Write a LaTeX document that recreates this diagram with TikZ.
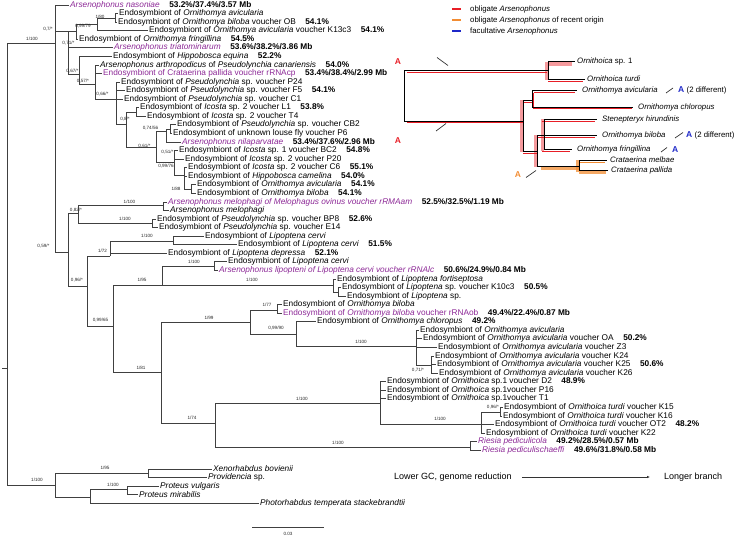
\documentclass[tikz,border=0pt]{standalone}
\usepackage{fontspec}
\setmainfont{Liberation Sans}
\usetikzlibrary{arrows.meta}
\definecolor{arsp}{RGB}{140,40,150}
\definecolor{obl}{RGB}{232,30,38}
\definecolor{rec}{RGB}{242,140,50}
\definecolor{fac}{RGB}{30,40,200}
\newcommand{\EoS}{Endosymbiont of}
\newcommand{\sgap}{\hspace{1.15em}}
\newcommand{\pp}[1]{\textcolor{arsp}{#1}}
\begin{document}
\begin{tikzpicture}[x=1pt,y=-1pt,
  br/.style={draw=black!75,line width=0.7pt},
  leaf/.style={anchor=west,inner ysep=0pt,inner xsep=1.5pt,font=\fontsize{8.3}{9}\selectfont},
  supp/.style={inner sep=0pt,font=\fontsize{4.6}{5}\selectfont,text=black!85},
  ileaf/.style={anchor=west,inner ysep=0pt,inner xsep=2pt,font=\fontsize{7.8}{9}\selectfont\itshape},
  ilab/.style={anchor=west,inner sep=0pt,font=\fontsize{7.8}{9}\selectfont},
  redl/.style={draw=obl,line width=0.8pt},
  redb/.style={draw=obl,opacity=0.45,line width=3.5pt},
  orb/.style={draw=rec,opacity=0.75,line width=3pt},
  orl/.style={draw=rec,line width=0.9pt},
  tick/.style={draw=black!80,line width=0.7pt},
  bigA/.style={inner sep=0pt,font=\fontsize{8.5}{9}\selectfont\bfseries}]
\useasboundingbox (0,0) rectangle (738,536);

% ---------------- leaves ----------------
\node[leaf] (l0) at (68.5,5) {\pp{\textit{Arsenophonus nasoniae}}\sgap\textbf{53.2\%/37.4\%/3.57 Mb}};
\node[leaf] (l1) at (117.5,13.6) {\EoS\ \textit{Ornithomya avicularia}};
\node[leaf] (l2) at (116.5,22.1) {\EoS\ \textit{Ornithomya biloba} voucher OB\sgap\textbf{54.1\%}};
\node[leaf] (l3) at (147.5,30.7) {\EoS\ \textit{Ornithomya avicularia} voucher K13c3\sgap\textbf{54.1\%}};
\node[leaf] (l4) at (77.5,39.2) {\EoS\ \textit{Ornithomya fringillina}\sgap\textbf{54.5\%}};
\node[leaf] (l5) at (112.5,47.8) {\pp{\textit{Arsenophonus triatominarum}}\sgap\textbf{53.6\%/38.2\%/3.86 Mb}};
\node[leaf] (l6) at (111.5,56.4) {\EoS\ \textit{Hippobosca equina}\sgap\textbf{52.2\%}};
\node[leaf] (l7) at (98.5,64.9) {\textit{Arsenophonus arthropodicus} of \textit{Pseudolynchia canariensis}\sgap\textbf{54.0\%}};
\node[leaf] (l8) at (101.5,73.5) {\pp{\EoS\ Crataerina pallida voucher rRNAcp}\sgap\textbf{53.4\%/38.4\%/2.99 Mb}};
\node[leaf] (l9) at (119.5,82) {\EoS\ \textit{Pseudolynchia} sp. voucher P24};
\node[leaf] (l10) at (124.5,90.6) {\EoS\ \textit{Pseudolynchia} sp. voucher F5\sgap\textbf{54.1\%}};
\node[leaf] (l11) at (122.5,99.2) {\EoS\ \textit{Pseudolynchia} sp. voucher C1};
\node[leaf] (l12) at (138.5,107.7) {\EoS\ \textit{Icosta} sp. 2 voucher L1\sgap\textbf{53.8\%}};
\node[leaf] (l13) at (145.5,116.3) {\EoS\ \textit{Icosta} sp. 2 voucher T4};
\node[leaf] (l14) at (175.5,124.8) {\EoS\ \textit{Pseudolynchia} sp. voucher CB2};
\node[leaf] (l15) at (171.5,133.4) {\EoS\ unknown louse fly voucher P6};
\node[leaf] (l16) at (180.5,142) {\pp{\textit{Arsenophonus nilaparvatae}}\sgap\textbf{53.4\%/37.6\%/2.96 Mb}};
\node[leaf] (l17) at (177.5,150.5) {\EoS\ \textit{Icosta} sp. 1 voucher BC2\sgap\textbf{54.8\%}};
\node[leaf] (l18) at (183.5,159.1) {\EoS\ \textit{Icosta} sp. 2 voucher P20};
\node[leaf] (l19) at (186.5,167.6) {\EoS\ \textit{Icosta} sp. 2 voucher C6\sgap\textbf{55.1\%}};
\node[leaf] (l20) at (186.5,176.2) {\EoS\ \textit{Hippobosca camelina}\sgap\textbf{54.0\%}};
\node[leaf] (l21) at (195.5,184.8) {\EoS\ \textit{Ornithomya avicularia}\sgap\textbf{54.1\%}};
\node[leaf] (l22) at (195.5,193.3) {\EoS\ \textit{Ornithomya biloba}\sgap\textbf{54.1\%}};
\node[leaf] (l23) at (166.5,201.9) {\pp{\textit{Arsenophonus melophagi of Melophagus ovinus voucher rRMAam}}\sgap\textbf{52.5\%/32.5\%/1.19 Mb}};
\node[leaf] (l24) at (168.5,210.4) {\textit{Arsenophonus melophagi}};
\node[leaf] (l25) at (155.5,219) {\EoS\ \textit{Pseudolynchia} sp. voucher BP8\sgap\textbf{52.6\%}};
\node[leaf] (l26) at (157.5,227.6) {\EoS\ \textit{Pseudolynchia} sp. voucher E14};
\node[leaf] (l27) at (203.5,236.1) {\EoS\ \textit{Lipoptena cervi}};
\node[leaf] (l28) at (236.5,244.7) {\EoS\ \textit{Lipoptena cervi}\sgap\textbf{51.5\%}};
\node[leaf] (l29) at (166.5,253.2) {\EoS\ \textit{Lipoptena depressa}\sgap\textbf{52.1\%}};
\node[leaf] (l30) at (226.5,261.8) {\EoS\ \textit{Lipoptena cervi}};
\node[leaf] (l31) at (217.5,270.4) {\pp{\textit{Arsenophonus lipopteni of Lipoptena cervi voucher rRNAlc}}\sgap\textbf{50.6\%/24.9\%/0.84 Mb}};
\node[leaf] (l32) at (335.5,278.9) {\EoS\ \textit{Lipoptena fortiseptosa}};
\node[leaf] (l33) at (340.5,287.5) {\EoS\ \textit{Lipoptena} sp. voucher K10c3\sgap\textbf{50.5\%}};
\node[leaf] (l34) at (345.5,296) {\EoS\ \textit{Lipoptena} sp.};
\node[leaf] (l35) at (281.5,304.6) {\EoS\ \textit{Ornithomya biloba}};
\node[leaf] (l36) at (281.5,313.2) {\pp{\EoS\ \textit{Ornithomya biloba} voucher rRNAob}\sgap\textbf{49.4\%/22.4\%/0.87 Mb}};
\node[leaf] (l37) at (315.5,321.7) {\EoS\ \textit{Ornithomya chloropus}\sgap\textbf{49.2\%}};
\node[leaf] (l38) at (418.5,330.3) {\EoS\ \textit{Ornithomya avicularia}};
\node[leaf] (l39) at (421.5,338.8) {\EoS\ \textit{Ornithomya avicularia} voucher OA\sgap\textbf{50.2\%}};
\node[leaf] (l40) at (436.5,347.4) {\EoS\ \textit{Ornithomya avicularia} voucher Z3};
\node[leaf] (l41) at (433.5,356) {\EoS\ \textit{Ornithomya avicularia} voucher K24};
\node[leaf] (l42) at (435.5,364.5) {\EoS\ \textit{Ornithomya avicularia} voucher K25\sgap\textbf{50.6\%}};
\node[leaf] (l43) at (437.5,373.1) {\EoS\ \textit{Ornithomya avicularia} voucher K26};
\node[leaf] (l44) at (385.5,381.6) {\EoS\ \textit{Ornithoica} sp.1 voucher D2\sgap\textbf{48.9\%}};
\node[leaf] (l45) at (385.5,390.2) {\EoS\ \textit{Ornithoica} sp.1voucher P16};
\node[leaf] (l46) at (385.5,398.8) {\EoS\ \textit{Ornithoica} sp.1voucher T1};
\node[leaf] (l47) at (502.5,407.3) {\EoS\ \textit{Ornithoica turdi} voucher K15};
\node[leaf] (l48) at (501.5,415.9) {\EoS\ \textit{Ornithoica turdi} voucher K16};
\node[leaf] (l49) at (493.5,424.4) {\EoS\ \textit{Ornithoica turdi} voucher OT2\sgap\textbf{48.2\%}};
\node[leaf] (l50) at (484.5,433) {\EoS\ \textit{Ornithoica turdi} voucher K22};
\node[leaf] (l51) at (476.5,441.6) {\pp{\textit{Riesia pediculicola}}\sgap\textbf{49.2\%/28.5\%/0.57 Mb}};
\node[leaf] (l52) at (480.5,450.1) {\pp{\textit{Riesia pediculischaeffi}}\sgap\textbf{49.6\%/31.8\%/0.58 Mb}};
\node[leaf] (o1) at (211.5,469) {\textit{Xenorhabdus bovienii}};
\node[leaf] (o2) at (206.5,477.6) {\textit{Providencia} sp.};
\node[leaf] (o3) at (158.5,486.1) {\textit{Proteus vulgaris}};
\node[leaf] (o4) at (137.5,494.7) {\textit{Proteus mirabilis}};
\node[leaf] (o5) at (258.5,503.2) {\textit{Photorhabdus temperata stackebrandtii}};

% ---------------- internal nodes ----------------
\coordinate (R) at (7,368);
\coordinate (R0) at (2,368);
\coordinate (ING) at (55,43);
\coordinate (A) at (68,31);
\coordinate (N071) at (76,31);
\coordinate (N099) at (97,24);
\coordinate (N180) at (115,18);
\coordinate (C) at (79,74);
\coordinate (D) at (95,84);
\coordinate (F) at (116,99.2);
\coordinate (H) at (126,124);
\coordinate (LT) at (136,112);
\coordinate (I) at (156,147);
\coordinate (J) at (166,131);
\coordinate (CP) at (170,129);
\coordinate (K) at (174,162);
\coordinate (L) at (184,175);
\coordinate (N188) at (191,189);
\coordinate (N059) at (68,252);
\coordinate (N082) at (78,213);
\coordinate (MEL) at (163,205);
\coordinate (PSE) at (152,223);
\coordinate (N096) at (87,286);
\coordinate (LIP1) at (110,256);
\coordinate (LC) at (173,241);
\coordinate (N9965) at (113,326);
\coordinate (LIP2) at (162,285);
\coordinate (LCL) at (214,266);
\coordinate (LFS) at (333,285);
\coordinate (LKS) at (338,292);
\coordinate (N181) at (161,372);
\coordinate (ORN) at (250,322);
\coordinate (N177) at (277,310);
\coordinate (N9990) at (296,334);
\coordinate (AVI) at (416,346);
\coordinate (N071b) at (431,365);
\coordinate (N174) at (215,423);
\coordinate (ORC) at (380,403);
\coordinate (TUR) at (481,424);
\coordinate (N096b) at (500,412);
\coordinate (RIE) at (470,447);
\coordinate (OUT) at (55,485);
\coordinate (XP) at (148,473);
\coordinate (PP) at (90,497);
\coordinate (PROT) at (127,489.5);

% ---------------- branches ----------------
\draw[br] (R0) -- (R) (R) |- (ING) (R) |- (OUT);
\draw[br] (ING) |- (l0.west) (ING) |- (A) (ING) |- (N059);
\draw[br] (A) |- (N071) (A) |- (l5.west) (A) |- (C);
\draw[br] (N071) |- (N099) (N071) |- (l4.west);
\draw[br] (N099) |- (N180) (N099) |- (l3.west);
\draw[br] (N180) |- (l1.west) (N180) |- (l2.west);
\draw[br] (C) |- (l6.west) (C) |- (D);
\draw[br] (D) |- (l7.west) (D) |- (l8.west) (D) |- (F);
\draw[br] (F) |- (l9.west) (F) |- (l10.west) (F) |- (l11.west) (F) |- (H);
\draw[br] (H) |- (LT) (H) |- (I);
\draw[br] (LT) |- (l12.west) (LT) |- (l13.west);
\draw[br] (I) |- (J) (I) |- (K);
\draw[br] (J) |- (CP) (J) |- (l16.west);
\draw[br] (CP) |- (l14.west) (CP) |- (l15.west);
\draw[br] (K) |- (l17.west) (K) |- (l18.west) (K) |- (L);
\draw[br] (L) |- (l19.west) (L) |- (l20.west) (L) |- (N188);
\draw[br] (N188) |- (l21.west) (N188) |- (l22.west);
\draw[br] (N059) |- (N082) (N059) |- (N096);
\draw[br] (N082) |- (MEL) (N082) |- (PSE);
\draw[br] (MEL) |- (l23.west) (MEL) |- (l24.west);
\draw[br] (PSE) |- (l25.west) (PSE) |- (l26.west);
\draw[br] (N096) |- (LIP1) (N096) |- (N9965);
\draw[br] (LIP1) |- (LC) (LIP1) |- (l29.west);
\draw[br] (LC) |- (l27.west) (LC) |- (l28.west);
\draw[br] (N9965) |- (LIP2) (N9965) |- (N181);
\draw[br] (LIP2) |- (LCL) (LIP2) |- (LFS);
\draw[br] (LCL) |- (l30.west) (LCL) |- (l31.west);
\draw[br] (LFS) |- (l32.west) (LFS) |- (LKS);
\draw[br] (LKS) |- (l33.west) (LKS) |- (l34.west);
\draw[br] (N181) |- (ORN) (N181) |- (N174);
\draw[br] (ORN) |- (N177) (ORN) |- (N9990);
\draw[br] (N177) |- (l35.west) (N177) |- (l36.west);
\draw[br] (N9990) |- (l37.west) (N9990) |- (AVI);
\draw[br] (AVI) |- (l38.west) (AVI) |- (l39.west) (AVI) |- (l40.west) (AVI) |- (N071b);
\draw[br] (N071b) |- (l41.west) (N071b) |- (l42.west) (N071b) |- (l43.west);
\draw[br] (N174) |- (ORC) (N174) |- (RIE);
\draw[br] (ORC) |- (l44.west) (ORC) |- (l45.west) (ORC) |- (l46.west) (ORC) |- (TUR);
\draw[br] (TUR) |- (N096b) (TUR) |- (l49.west) (TUR) |- (l50.west);
\draw[br] (N096b) |- (l47.west) (N096b) |- (l48.west);
\draw[br] (RIE) |- (l51.west) (RIE) |- (l52.west);
\draw[br] (OUT) |- (XP) (OUT) |- (PP);
\draw[br] (XP) |- (o1.west) (XP) |- (o2.west);
\draw[br] (PP) |- (PROT) (PP) |- (o5.west);
\draw[br] (PROT) |- (o3.west) (PROT) |- (o4.west);

% ---------------- support values ----------------
\node[supp] (s1) at (32,39) {1/100};
\node[supp] (s2) at (48,29) {0,7/*};
\node[supp] (s3) at (100,17) {1/80};
\node[supp] (s4) at (83,26) {0,99/79};
\node[supp] (s5) at (68.5,43) {0,71/*};
\node[supp] (s6) at (72.5,71) {0,67/*};
\node[supp] (s7) at (83,81) {0,57/*};
\node[supp] (s8) at (102.5,94) {0,66/*};
\node[supp] (s9) at (125,119) {0,8/*};
\node[supp] (s10) at (150.5,128) {0,74/56};
\node[supp] (s11) at (144.5,146) {0,61/*};
\node[supp] (s12) at (167.5,152) {0,51/*};
\node[supp] (s13) at (166,166) {0,99/76};
\node[supp] (s14) at (176,189) {1/88};
\node[supp] (s15) at (129.5,202) {1/100};
\node[supp] (s16) at (76,210) {0,82/*};
\node[supp] (s17) at (125,219) {1/100};
\node[supp] (s18) at (43.5,246) {0,59/*};
\node[supp] (s19) at (147,236) {1/100};
\node[supp] (s20) at (102.5,251) {1/72};
\node[supp] (s21) at (77,280) {0,96/*};
\node[supp] (s22) at (194,262) {1/100};
\node[supp] (s23) at (142,280) {1/95};
\node[supp] (s24) at (252,280) {1/100};
\node[supp] (s25) at (100.5,320) {0,99/65};
\node[supp] (s26) at (141,368) {1/81};
\node[supp] (s27) at (209,318) {1/99};
\node[supp] (s28) at (267,305) {1/77};
\node[supp] (s29) at (276,328) {0,99/90};
\node[supp] (s30) at (361,342) {1/100};
\node[supp] (s31) at (418,370) {0,71/*};
\node[supp] (s32) at (192,418) {1/74};
\node[supp] (s33) at (302,399) {1/100};
\node[supp] (s34) at (440,419) {1/100};
\node[supp] (s35) at (493,407) {0,96/*};
\node[supp] (s36) at (338,443) {1/100};
\node[supp] (s37) at (37,480) {1/100};
\node[supp] (s38) at (105,468) {1/95};
\node[supp] (s39) at (113,485) {1/100};

% ---------------- scale bar ----------------
\coordinate (sb1) at (252,527);
\coordinate (sb2) at (324,527);
\draw[br] (sb1) -- (sb2);
\node[supp] (sbl) at (288,534) {0.03};

% ---------------- GC arrow ----------------
\node[anchor=west,inner sep=0pt,font=\fontsize{9}{10}\selectfont] (lgc) at (394,477) {Lower GC, genome reduction};
\node[anchor=west,inner sep=0pt,font=\fontsize{9}{10}\selectfont] (lbr) at (664,477) {Longer branch};
\draw[black!80,line width=0.6pt,-{Latex[length=3pt,width=2.5pt]}] ([xshift=10pt]lgc.east) -- ([xshift=-14pt]lbr.west);

% ---------------- legend ----------------
\coordinate (g1a) at (452,9);  \coordinate (g1b) at (461,9);
\coordinate (g2a) at (452,20); \coordinate (g2b) at (461,20);
\coordinate (g3a) at (452,31); \coordinate (g3b) at (461,31);
\draw[draw=obl,line width=1.3pt] (g1a) -- (g1b);
\draw[draw=rec,line width=1.3pt] (g2a) -- (g2b);
\draw[draw=fac,line width=1.3pt] (g3a) -- (g3b);
\node[ilab] (gt1) at (470,9) {obligate \textit{Arsenophonus}};
\node[ilab] (gt2) at (470,20) {obligate \textit{Arsenophonus} of recent origin};
\node[ilab] (gt3) at (470,31) {facultative \textit{Arsenophonus}};

% ---------------- inset tree ----------------
\node[ileaf] (t1) at (575,61.5) {Ornithoica \upshape sp. 1};
\node[ileaf] (t2) at (585,79) {Ornithoica turdi};
\node[ileaf,inner xsep=5pt] (t3) at (577,90) {Ornithomya avicularia};
\node[ileaf,inner xsep=5pt] (t4) at (633,107) {Ornithomya chloropus};
\node[ileaf,inner xsep=5pt] (t5) at (597,119) {Stenepteryx hirundinis};
\node[ileaf,inner xsep=5pt] (t6) at (597,135) {Ornithomya biloba};
\node[ileaf,inner xsep=5pt] (t7) at (572,149.5) {Ornithomya fringillina};
\node[ileaf,inner xsep=3pt] (t8) at (607,160) {Crataerina melbae};
\node[ileaf,inner xsep=3pt] (t9) at (608,170.5) {Crataerina pallida};

\coordinate (iR) at (404,95);
\coordinate (iO) at (548,70);
\coordinate (iM) at (523,121);
\coordinate (iA) at (532,100);
\coordinate (iP) at (537,151);
\coordinate (iQ) at (544,135);
\coordinate (iC) at (579,166);

% coloured shadows
\draw[redb] (547,62) -- (547,80);
\draw[redb] (548,63.8) -- (572,63.8);
\draw[redb] (522,100) -- (522,152);
\draw[redb] (535.5,135) -- (535.5,167);
\draw[redb] (542.3,119) -- (542.3,151);
\draw[redl] (407,72.2) -- (547,72.2);
\draw[redl] (548,81) -- (583,81);
\draw[redl] (407,122.8) -- (523,122.8);
\draw[redl] (523,102) -- (533.8,102);
\draw[redl] (533.8,92.5) -- (533.8,108.8);
\draw[redl] (533.8,92.5) -- (575,92.5);
\draw[redl] (533.8,108.8) -- (632,108.8);
\draw[redl] (542.3,121.3) -- (595,121.3);
\draw[redl] (537,137) -- (595,137);
\draw[redl] (542.3,151.4) -- (570,151.4);
\draw[redl] (523,153) -- (537,153);
\draw[orb] (541,168.2) -- (579,168.2);
\draw[orb] (577.8,160) -- (577.8,172);
\draw[orb] (579,172.2) -- (606,172.2);
\draw[orl] (579,162) -- (605,162);

% black tree
\draw[br,draw=black] (iR) |- (iO) (iR) |- (iM);
\draw[br,draw=black] (iO) |- (t1.west) (iO) |- (t2.west);
\draw[br,draw=black] (iM) |- (iA) (iM) |- (iP);
\draw[br,draw=black] (iA) |- (t3.west) (iA) |- (t4.west);
\draw[br,draw=black] (iP) |- (iQ) (iP) |- (t6.west) (iP) |- (iC);
\draw[br,draw=black] (iQ) |- (t5.west) (iQ) |- (t7.west);
\draw[br,draw=black] (iC) |- (t8.west) (iC) |- (t9.west);

% A marks
\node[bigA,text=obl] (a1) at (398,62) {A};
\coordinate (k1a) at (437,57.5); \coordinate (k1b) at (448,65.5);
\draw[tick] (k1a) -- (k1b);
\node[bigA,text=obl] (a2) at (398,141) {A};
\coordinate (k2a) at (436,131); \coordinate (k2b) at (446,123.5);
\draw[tick] (k2a) -- (k2b);
\node[bigA,text=rec] (a3) at (518,175) {A};
\coordinate (k3a) at (526,177.5); \coordinate (k3b) at (536,170.5);
\draw[tick] (k3a) -- (k3b);
\coordinate (k4a) at (666,93); \coordinate (k4b) at (673,88);
\draw[tick] (k4a) -- (k4b);
\node[bigA,text=fac,anchor=west] (a4) at (678,90) {A};
\node[ilab] (d4) at (686.5,90) {(2 different)};
\coordinate (k5a) at (675,138); \coordinate (k5b) at (683,132.5);
\draw[tick] (k5a) -- (k5b);
\node[bigA,text=fac,anchor=west] (a5) at (686,135) {A};
\node[ilab] (d5) at (694.5,135) {(2 different)};
\coordinate (k6a) at (661,152); \coordinate (k6b) at (667,147.5);
\draw[tick] (k6a) -- (k6b);
\node[bigA,text=fac,anchor=west] (a6) at (672,149.5) {A};
\end{tikzpicture}
\end{document}
